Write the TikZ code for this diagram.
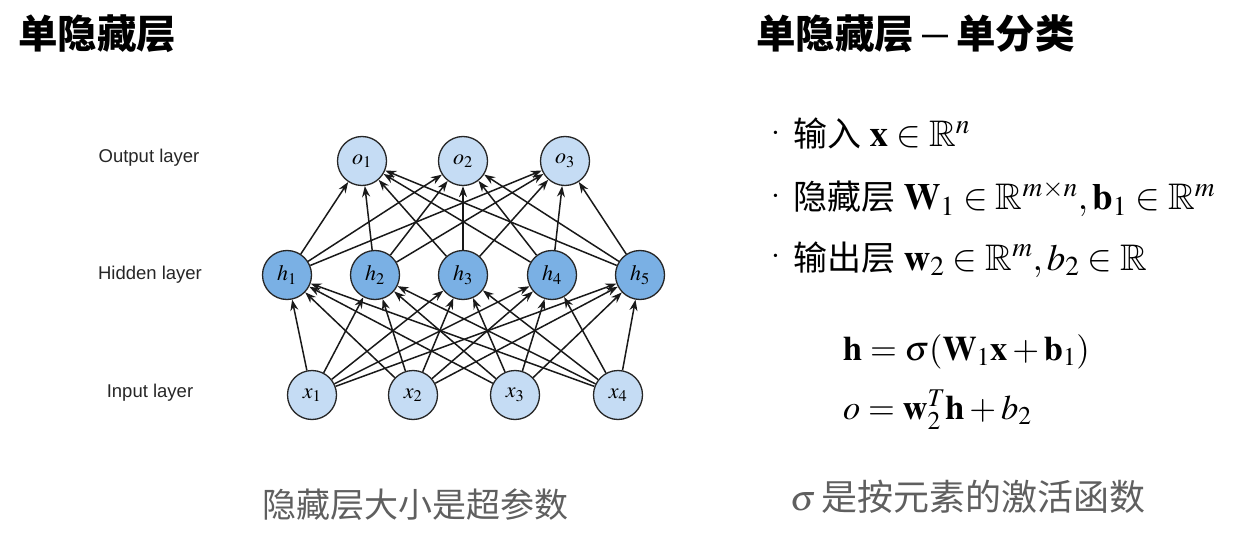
\documentclass[tikz,border=0pt]{standalone}
\usepackage{amssymb}
\usepackage{mathptmx}
\usepackage[no-math]{fontspec}
\setmainfont{Liberation Serif}
\newfontfamily\cjk{Noto Sans CJK SC}
\newfontfamily\labfont{Liberation Sans}
\usetikzlibrary{arrows.meta}
\definecolor{nlight}{RGB}{197,220,244}
\definecolor{ndark}{RGB}{122,176,228}
\definecolor{capgray}{RGB}{95,95,95}
\newcommand{\bul}{\raisebox{0.28em}{\fontsize{14}{14}\selectfont\textbullet}\hspace{15pt}}
\newcommand{\bm}[1]{{\fontsize{37}{40}\selectfont$#1$}}
\begin{document}
\begin{tikzpicture}[x=1pt,y=-1pt,
  neuron/.style={circle, draw=black!85, line width=1.3pt, minimum size=49pt, inner sep=0pt, font=\fontsize{22}{22}\selectfont},
  lightn/.style={neuron, fill=nlight},
  darkn/.style={neuron, fill=ndark},
  conn/.style={-{Stealth[length=11pt,width=8pt]}, line width=1.5pt, black!90},
  layerlab/.style={font=\labfont\fontsize{18.5}{20}\selectfont, text=black!85, inner sep=0pt},
  title/.style={anchor=west, inner sep=0pt, font=\cjk\bfseries\fontsize{39.5}{42}\selectfont},
  bline/.style={anchor=base west, inner sep=0pt, font=\fontsize{34}{36}\selectfont},
  eqn/.style={anchor=base west, inner sep=0pt, font=\fontsize{34.5}{36}\selectfont},
  caption/.style={inner sep=0pt, text=capgray}
]
\useasboundingbox (0,0) rectangle (1233,537);

% titles
\node[title] (t1) at (18,34) {单隐藏层};
\node[title] (t2) at (756,34) {单隐藏层\hspace{8pt}\raisebox{5pt}{\labfont\bfseries\fontsize{26}{26}\selectfont —}\hspace{8pt}单分类};

% layer labels
\node[layerlab] (lo) at (149,158) {Output layer};
\node[layerlab] (lh) at (150,275) {Hidden layer};
\node[layerlab] (li) at (150,393) {Input layer};

% neurons
\node[lightn] (o1) at (362,161) {$o_1$};
\node[lightn] (o2) at (463,161) {$o_2$};
\node[lightn] (o3) at (565,161) {$o_3$};
\node[darkn] (h1) at (287,275) {$h_1$};
\node[darkn] (h2) at (375,275) {$h_2$};
\node[darkn] (h3) at (463,275) {$h_3$};
\node[darkn] (h4) at (552,275) {$h_4$};
\node[darkn] (h5) at (640,275) {$h_5$};
\node[lightn] (x1) at (312,395) {$x_1$};
\node[lightn] (x2) at (413,395) {$x_2$};
\node[lightn] (x3) at (515,395) {$x_3$};
\node[lightn] (x4) at (618,395) {$x_4$};

\foreach \i in {1,...,4}
  \foreach \j in {1,...,5}
    \draw[conn] (x\i) -- (h\j);
\foreach \j in {1,...,5}
  \foreach \k in {1,...,3}
    \draw[conn] (h\j) -- (o\k);

% bullets
\node[bline] (b1) at (773,147) {\bul{\cjk 输入} \bm{\mathbf{x}\in\mathbb{R}^n}};
\node[bline] (b2) at (773,210) {\bul{\cjk 隐藏层} \bm{\mathbf{W}_1\in\mathbb{R}^{m\times n},\mathbf{b}_1\in\mathbb{R}^m}};
\node[bline] (b3) at (773,270) {\bul{\cjk 输出层} \bm{\mathbf{w}_2\in\mathbb{R}^m, b_2\in\mathbb{R}}};

% equations
\node[eqn] (e1) at (843,360) {$\mathbf{h}=\sigma(\mathbf{W}_1\mathbf{x}+\mathbf{b}_1)$};
\node[eqn] (e2) at (843,419) {$o=\mathbf{w}_2^T\mathbf{h}+b_2$};

% captions
\node[caption, font=\cjk\fontsize{34}{36}\selectfont] (c1) at (415,505) {隐藏层大小是超参数};
\node[caption, anchor=west, font=\fontsize{36}{38}\selectfont] (c2) at (790,497) {$\sigma$\,{\cjk 是按元素的激活函数}};
\end{tikzpicture}
\end{document}
